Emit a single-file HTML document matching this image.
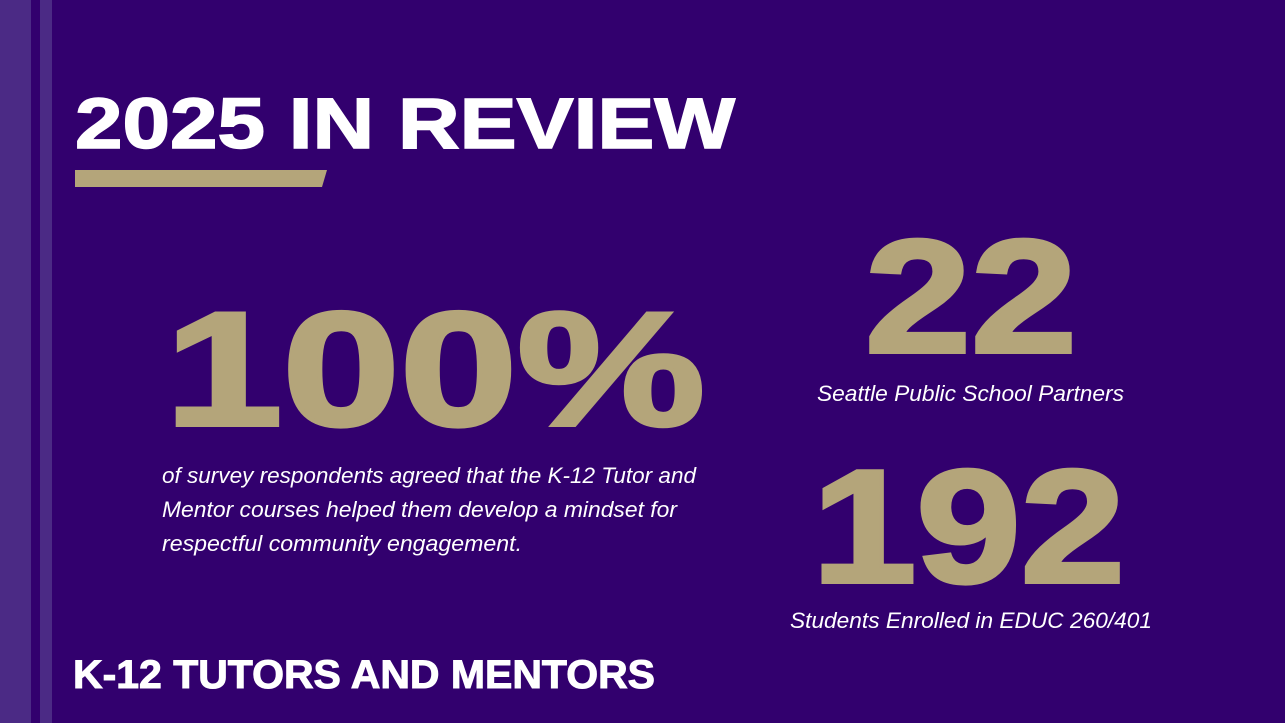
<!DOCTYPE html>
<html><head><meta charset="utf-8"><style>
html,body{margin:0;padding:0;width:1285px;height:723px;overflow:hidden;background:#32006e}
svg{display:block}
</style></head><body>
<svg width="1285" height="723" viewBox="0 0 1285 723" xmlns="http://www.w3.org/2000/svg">
<rect width="1285" height="723" fill="#32006e"/>
<rect x="0" y="0" width="31" height="723" fill="#4b2a85"/>
<rect x="40" y="0" width="12" height="723" fill="#4b2a85"/>
<g font-family="Liberation Sans, sans-serif" font-weight="bold">
<text x="75" y="148" font-size="71" fill="#fff" stroke="#fff" stroke-width="1.5" textLength="660" lengthAdjust="spacingAndGlyphs">2025 IN REVIEW</text>
<polygon points="75,170 327,170 322,187 75,187" fill="#b4a57a"/>
<text x="165" y="425" font-size="162" fill="#b4a57a" stroke="#b4a57a" stroke-width="4" textLength="540" lengthAdjust="spacingAndGlyphs">100%</text>
<text x="865" y="352" font-size="161" fill="#b4a57a" stroke="#b4a57a" stroke-width="4" textLength="212" lengthAdjust="spacingAndGlyphs">22</text>
<text x="812" y="582" font-size="161" fill="#b4a57a" stroke="#b4a57a" stroke-width="4" textLength="313" lengthAdjust="spacingAndGlyphs">192</text>
<text x="73" y="688" font-size="40" fill="#fff" stroke="#fff" stroke-width="1" textLength="582" lengthAdjust="spacingAndGlyphs">K-12 TUTORS AND MENTORS</text>
</g>
<g font-family="Liberation Sans, sans-serif" font-style="italic" font-size="22" fill="#fff">
<text x="817" y="401" textLength="307" lengthAdjust="spacingAndGlyphs">Seattle Public School Partners</text>
<text x="790" y="628" textLength="362" lengthAdjust="spacingAndGlyphs">Students Enrolled in EDUC 260/401</text>
<text x="162" y="483" textLength="534" lengthAdjust="spacingAndGlyphs">of survey respondents agreed that the K-12 Tutor and</text>
<text x="162" y="517" textLength="515" lengthAdjust="spacingAndGlyphs">Mentor courses helped them develop a mindset for</text>
<text x="162" y="551" textLength="360" lengthAdjust="spacingAndGlyphs">respectful community engagement.</text>
</g>
</svg>
</body></html>
